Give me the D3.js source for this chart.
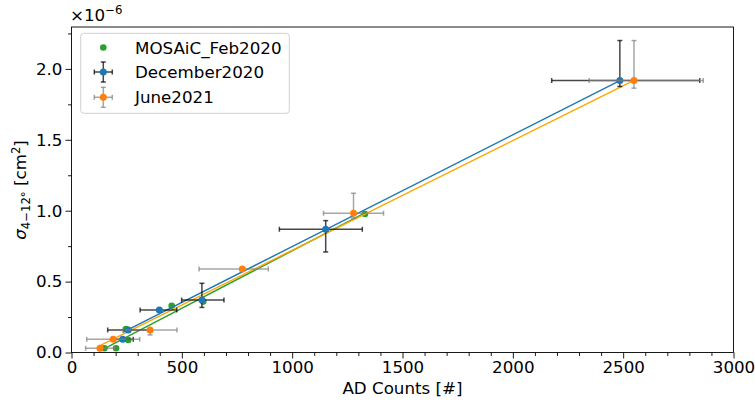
<!DOCTYPE html>
<html>
<head>
<meta charset="utf-8">
<script src="https://cdn.jsdelivr.net/npm/d3@7"></script>
<style>
  body { margin: 0; background: #fff; }
  text { font-family: "DejaVu Sans", sans-serif; fill: #000; }
</style>
</head>
<body>
<svg id="chart" width="755" height="403"></svg>
<script>
// Cross-section values are in units of 1e-6 cm^2 (offset shown above the y axis)
const mosaicX = [149, 202, 257, 247, 454, 597, 1330];
const mosaicY = [0.030, 0.030, 0.088, 0.166, 0.330, 0.359, 0.977];

const decX   = [232, 257, 398, 591, 1152, 2485];
const decY   = [0.093, 0.159, 0.300, 0.370, 0.869, 1.918];
const decXLo = [48, 93, 87, 92, 210, 309];
const decXHi = [48, 93, 79, 100, 166, 362];
const decYLo = [0.008, 0.008, 0.008, 0.052, 0.160, 0.042];
const decYHi = [0.008, 0.008, 0.008, 0.118, 0.061, 0.282];

const junX   = [129, 189, 356, 774, 1278, 2549];
const junY   = [0.030, 0.093, 0.159, 0.589, 0.982, 1.918];
const junXLo = [65, 120, 122, 196, 136, 203];
const junXHi = [65, 120, 122, 118, 136, 314];
const junYLo = [0.008, 0.008, 0.035, 0.008, 0.035, 0.054];
const junYHi = [0.008, 0.008, 0.008, 0.008, 0.141, 0.282];

// Linear fits: [slope, intercept] per campaign
const fitMosaic = [8.1e-4, -0.093];
const fitDec    = [7.88e-4, -0.041];
const fitJun    = [7.73e-4, -0.052];

const seriesNames = ["MOSAiC_Feb2020", "December2020", "June2021"];
const xTicks = [0, 500, 1000, 1500, 2000, 2500, 3000];
const yTicks = [0.0, 0.5, 1.0, 1.5, 2.0];

const W = 755, H = 403;
const m = { left: 71.5, right: 21.5, top: 27, bottom: 50.5 };
const svg = d3.select("#chart");
const FS = 16.7;

const x = d3.scaleLinear().domain([0, 3000]).range([m.left, W - m.right]);
const y = d3.scaleLinear().domain([0, 2.2955]).range([H - m.bottom, m.top]);

// Axes with major and minor ticks
const xAxis = d3.axisBottom(x).tickValues(xTicks).tickFormat(d3.format("d")).tickSize(6).tickPadding(3);
const xMinor = d3.axisBottom(x).tickValues(d3.range(0, 3001, 100).filter(v => v % 500)).tickFormat("").tickSize(3.5);
const yAxis = d3.axisLeft(y).tickValues(yTicks).tickFormat(d3.format(".1f")).tickSize(6).tickPadding(3);
const yMinor = d3.axisLeft(y).tickValues([0.25, 0.75, 1.25, 1.75, 2.25]).tickFormat("").tickSize(3.5);

function styleAxis(g) {
  g.select(".domain").remove();
  g.selectAll("line").attr("stroke", "#000").attr("stroke-width", 0.9);
  g.selectAll("text").attr("font-size", FS).attr("font-family", "DejaVu Sans").attr("fill", "#000");
}
svg.append("g").attr("transform", `translate(0,${H - m.bottom})`).call(xAxis).call(styleAxis);
svg.append("g").attr("transform", `translate(0,${H - m.bottom})`).call(xMinor).call(styleAxis);
svg.append("g").attr("transform", `translate(${m.left},0)`).call(yAxis).call(styleAxis);
svg.append("g").attr("transform", `translate(${m.left},0)`).call(yMinor).call(styleAxis);

// Frame
svg.append("rect")
  .attr("x", m.left).attr("y", m.top)
  .attr("width", W - m.left - m.right).attr("height", H - m.top - m.bottom)
  .attr("fill", "none").attr("stroke", "#000").attr("stroke-width", 0.9);

const plot = svg.append("g");

// MOSAiC scatter
plot.selectAll("circle.mosaic").data(mosaicX.map((v, i) => [v, mosaicY[i]]))
  .join("circle").attr("class", "mosaic")
  .attr("cx", d => x(d[0])).attr("cy", d => y(d[1])).attr("r", 3.3)
  .attr("fill", "#2ca02c");

// Fit lines over each campaign's count range
function fitLine(xs, fit, color) {
  const x0 = d3.min(xs), x1 = d3.max(xs);
  plot.append("line")
    .attr("x1", x(x0)).attr("y1", y(fit[0] * x0 + fit[1]))
    .attr("x2", x(x1)).attr("y2", y(fit[0] * x1 + fit[1]))
    .attr("stroke", color).attr("stroke-width", 1.4);
}
fitLine(mosaicX, fitMosaic, "#2ca02c");
fitLine(junX, fitJun, "#ffa500");
fitLine(decX, fitDec, "#1f77b4");

// Error bar series
function errSeries(xs, ys, xlo, xhi, ylo, yhi, ecolor, mcolor) {
  const g = plot.append("g");
  const cap = 2.5;
  xs.forEach((xv, i) => {
    const px = x(xv), py = y(ys[i]);
    const xl = x(xv - xlo[i]), xr = x(xv + xhi[i]);
    const yt = y(ys[i] + yhi[i]), yb = y(ys[i] - ylo[i]);
    const e = g.append("g").attr("stroke", ecolor).attr("stroke-width", 1.5).attr("fill", "none");
    e.append("line").attr("x1", xl).attr("x2", xr).attr("y1", py).attr("y2", py);
    e.append("line").attr("x1", px).attr("x2", px).attr("y1", yt).attr("y2", yb);
    e.append("line").attr("x1", xl).attr("x2", xl).attr("y1", py - cap).attr("y2", py + cap);
    e.append("line").attr("x1", xr).attr("x2", xr).attr("y1", py - cap).attr("y2", py + cap);
    e.append("line").attr("x1", px - cap).attr("x2", px + cap).attr("y1", yt).attr("y2", yt);
    e.append("line").attr("x1", px - cap).attr("x2", px + cap).attr("y1", yb).attr("y2", yb);
  });
  g.selectAll("circle").data(xs.map((v, i) => [v, ys[i]]))
    .join("circle").attr("cx", d => x(d[0])).attr("cy", d => y(d[1])).attr("r", 3.5)
    .attr("fill", mcolor);
}
errSeries(decX, decY, decXLo, decXHi, decYLo, decYHi, "rgba(0,0,0,0.72)", "#1f77b4");
errSeries(junX, junY, junXLo, junXHi, junYLo, junYHi, "rgba(128,128,128,0.7)", "#ff7f0e");

// Axis labels
svg.append("text").attr("x", (m.left + W - m.right) / 2).attr("y", 394)
  .attr("text-anchor", "middle").attr("font-size", FS).text("AD Counts [#]");

const yl = svg.append("text").attr("transform", "translate(26,190) rotate(-90)")
  .attr("text-anchor", "middle").attr("font-size", FS);
yl.append("tspan").attr("font-style", "italic").text("σ");
yl.append("tspan").attr("font-size", FS * 0.7).attr("dy", 4).text("4\u221212°");
yl.append("tspan").attr("dy", -4).text(" [cm");
yl.append("tspan").attr("font-size", FS * 0.7).attr("dy", -6).text("2");
yl.append("tspan").attr("dy", 6).text("]");

// Offset label
const off = svg.append("text").attr("x", 70).attr("y", 21).attr("font-size", FS);
off.append("tspan").text("\u00d710");
off.append("tspan").attr("font-size", FS * 0.7).attr("dy", -7).text("\u22126");

// Legend
const lg = svg.append("g");
lg.append("rect").attr("x", 80.7).attr("y", 33.3).attr("width", 208.6).attr("height", 80)
  .attr("rx", 3).attr("fill", "rgba(255,255,255,0.8)").attr("stroke", "#d0d0d0").attr("stroke-width", 1);
const rows = [47.5, 72, 97.3];
const mx = 103.3;
lg.append("circle").attr("cx", mx).attr("cy", rows[0]).attr("r", 3.3).attr("fill", "#2ca02c");
[[1, "rgba(0,0,0,0.72)", "#1f77b4"], [2, "rgba(128,128,128,0.7)", "#ff7f0e"]].forEach(([k, ec, mc]) => {
  const cy = rows[k];
  const e = lg.append("g").attr("stroke", ec).attr("stroke-width", 1.5);
  e.append("line").attr("x1", mx - 9).attr("x2", mx + 9).attr("y1", cy).attr("y2", cy);
  e.append("line").attr("x1", mx).attr("x2", mx).attr("y1", cy - 10).attr("y2", cy + 10);
  e.append("line").attr("x1", mx - 9).attr("x2", mx - 9).attr("y1", cy - 2.5).attr("y2", cy + 2.5);
  e.append("line").attr("x1", mx + 9).attr("x2", mx + 9).attr("y1", cy - 2.5).attr("y2", cy + 2.5);
  e.append("line").attr("x1", mx - 2.5).attr("x2", mx + 2.5).attr("y1", cy - 10).attr("y2", cy - 10);
  e.append("line").attr("x1", mx - 2.5).attr("x2", mx + 2.5).attr("y1", cy + 10).attr("y2", cy + 10);
  lg.append("circle").attr("cx", mx).attr("cy", cy).attr("r", 3.5).attr("fill", mc);
});
seriesNames.forEach((s, i) => {
  lg.append("text").attr("x", 135).attr("y", rows[i]).attr("dy", "0.36em")
    .attr("font-size", FS).text(s);
});
</script>
</body>
</html>
